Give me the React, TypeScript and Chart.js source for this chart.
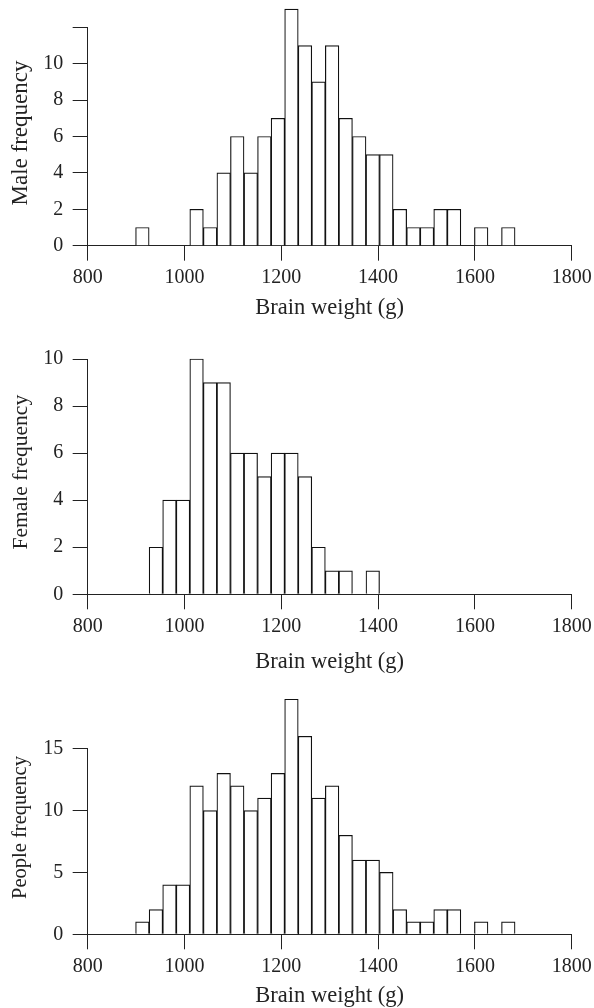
import { useEffect, useRef } from "react";
import { Chart, registerables } from "chart.js";

Chart.register(...registerables);

// Histogram bins (lower edges, grams) and bin width
const binStarts = [
  899, 927, 955, 983, 1011, 1039, 1067, 1095, 1123, 1151, 1179, 1207, 1235, 1263,
  1291, 1319, 1347, 1375, 1403, 1431, 1459, 1487, 1515, 1543, 1571, 1599, 1627, 1655,
];
const binWidth = 28;

// Frequencies per bin
const maleCounts = [1, 0, 0, 0, 2, 1, 4, 6, 4, 6, 7, 13, 11, 9, 11, 7, 6, 5, 5, 2, 1, 1, 2, 2, 0, 1, 0, 1];
const femaleCounts = [0, 2, 4, 4, 10, 9, 9, 6, 6, 5, 6, 6, 5, 2, 1, 1, 0, 1, 0, 0, 0, 0, 0, 0, 0, 0, 0, 0];
const peopleCounts = [1, 2, 4, 4, 12, 10, 13, 12, 10, 11, 13, 19, 16, 11, 12, 8, 6, 6, 5, 2, 1, 1, 2, 2, 0, 1, 0, 1];

// Axis settings
const xMin = 800;
const xMax = 1800;
const xStep = 200;
const xTitle = "Brain weight (g)";

const FONT = "'Liberation Serif', 'Times New Roman', serif";
const INK = "#222";

type Panel = {
  label: string;
  counts: number[];
  yMax: number;
  yStep: number;
  labelMaxTick: boolean;
  top: number;
  height: number;
  padTop: number;
  xAxisHeight: number;
  xTitlePad: number;
  yTitleSize: number;
  yTitleShift: number;
};

const panels: Panel[] = [
  { label: "Male frequency", counts: maleCounts, yMax: 12, yStep: 2, labelMaxTick: false,
    top: 0, height: 325, padTop: 27.33, xAxisHeight: 79.33, xTitlePad: 6, yTitleSize: 23, yTitleShift: -3.5 },
  { label: "Female frequency", counts: femaleCounts, yMax: 10, yStep: 2, labelMaxTick: true,
    top: 325, height: 350, padTop: 34, xAxisHeight: 80.7, xTitlePad: 1.4, yTitleSize: 21.5, yTitleShift: -4.5 },
  { label: "People frequency", counts: peopleCounts, yMax: 15, yStep: 5, labelMaxTick: true,
    top: 675, height: 333, padTop: 73.7, xAxisHeight: 73.7, xTitlePad: 0.4, yTitleSize: 20.5, yTitleShift: -14 },
];

// Rotated y-axis caption drawn beside the axis
const sideTitle = {
  id: "sideTitle",
  afterDraw(chart: any, _args: any, opts: any) {
    const { ctx, chartArea } = chart;
    const cy = (chartArea.top + chartArea.bottom) / 2 + (opts.shift || 0);
    ctx.save();
    ctx.translate(opts.x, cy);
    ctx.rotate(-Math.PI / 2);
    ctx.font = `${opts.size}px ${FONT}`;
    ctx.fillStyle = INK;
    ctx.textAlign = "center";
    ctx.textBaseline = "middle";
    ctx.fillText(opts.text, 0, 0);
    ctx.restore();
  },
};

function HistogramPanel({ panel }: { panel: Panel }) {
  const ref = useRef<HTMLCanvasElement | null>(null);

  useEffect(() => {
    if (!ref.current) return;
    const points = binStarts
      .map((start, i) => ({ x: start + binWidth / 2, y: panel.counts[i] }))
      .filter((p) => p.y > 0);

    const chart = new Chart(ref.current, {
      type: "bar",
      data: {
        datasets: [
          {
            data: points,
            backgroundColor: "#ffffff",
            borderColor: "#111",
            borderWidth: 1.2,
            borderSkipped: "start",
            barPercentage: 1,
            categoryPercentage: 1,
            clip: false,
          } as any,
        ],
      },
      plugins: [sideTitle],
      options: {
        responsive: false,
        animation: false,
        devicePixelRatio: 1,
        layout: { padding: { top: panel.padTop, right: 22.3, bottom: 0, left: 0 } },
        plugins: {
          legend: { display: false },
          tooltip: { enabled: false },
          sideTitle: { text: panel.label, size: panel.yTitleSize, x: 21, shift: panel.yTitleShift },
        },
        scales: {
          x: {
            type: "linear",
            min: xMin,
            max: xMax,
            offset: false,
            z: 1,
            ticks: {
              stepSize: xStep,
              padding: 5,
              maxRotation: 0,
              autoSkip: false,
              color: INK,
              font: { family: FONT, size: 20 },
              callback: (v: any) => String(v),
            },
            grid: { drawOnChartArea: false, offset: false, tickLength: 15, color: INK, lineWidth: 1 },
            border: { color: INK, width: 1 },
            title: {
              display: true,
              text: xTitle,
              color: INK,
              font: { family: FONT, size: 22.5, lineHeight: 1 },
              padding: { top: 0, bottom: panel.xTitlePad },
            },
            afterFit: (s: any) => {
              s.height = panel.xAxisHeight;
              s.paddingLeft = 0;
              s.paddingRight = 0;
            },
          },
          y: {
            type: "linear",
            min: 0,
            max: panel.yMax,
            z: 1,
            ticks: {
              stepSize: panel.yStep,
              padding: 9.4,
              color: INK,
              font: { family: FONT, size: 20 },
              callback: (v: any) => (!panel.labelMaxTick && v === panel.yMax ? "" : String(v)),
            },
            grid: { drawOnChartArea: false, tickLength: 15, color: INK, lineWidth: 1 },
            border: { color: INK, width: 1 },
            title: { display: false },
            afterFit: (s: any) => {
              s.width = 87.67;
              s.paddingTop = 0;
              s.paddingBottom = 0;
            },
          },
        },
      } as any,
    });
    return () => chart.destroy();
  }, [panel]);

  return (
    <canvas
      ref={ref}
      width={594}
      height={panel.height}
      style={{ position: "absolute", left: 0, top: panel.top, width: 594, height: panel.height }}
    />
  );
}

export default function App() {
  return (
    <div style={{ position: "fixed", left: 0, top: 0, width: 594, height: 1008, background: "#fff", overflow: "hidden" }}>
      {panels.map((p) => (
        <HistogramPanel key={p.label} panel={p} />
      ))}
    </div>
  );
}
